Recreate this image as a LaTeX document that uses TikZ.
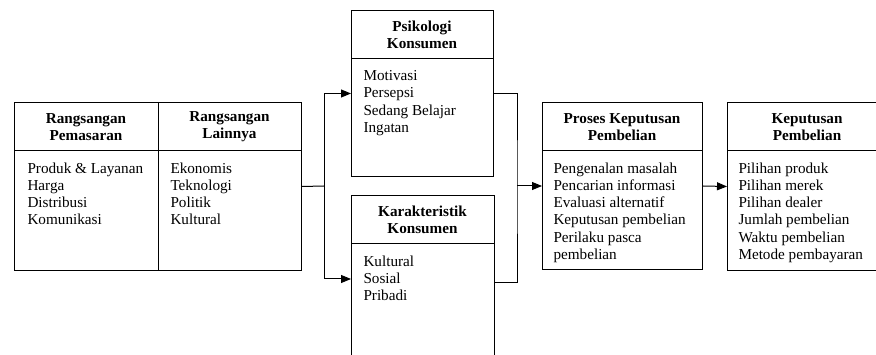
\documentclass[tikz,border=0pt]{standalone}
\usepackage{fontspec}
\setmainfont{Liberation Serif}
\usetikzlibrary{arrows.meta}
\begin{document}
\begin{tikzpicture}[x=1pt,y=-1pt, line width=1pt,
  box/.style={draw, rectangle, inner sep=0pt, anchor=north west},
  head/.style={font=\fontsize{15.2}{17.3}\selectfont\bfseries, align=center, inner sep=0pt},
  body/.style={font=\fontsize{15.2}{17.3}\selectfont, align=left, anchor=north west, inner sep=0pt},
  arr/.style={-{Triangle[length=10pt,width=8pt]}}]
\useasboundingbox (0,0) rectangle (876,355);
\clip (0,0) rectangle (876,355);
% boxes
\node[box, minimum width=287pt, minimum height=168pt] (stim) at (14,102) {};
\node[box, minimum width=142pt, minimum height=166pt] (psi) at (351,10) {};
\node[box, minimum width=143pt, minimum height=185pt] (kar) at (351,195) {};
\node[box, minimum width=160pt, minimum height=167pt] (pro) at (542,102) {};
\node[box, minimum width=160pt, minimum height=168pt] (kep) at (727,102) {};
% dividers
\draw (158,102) -- (158,270);
\draw (stim.west |- 0,151) -- (stim.east |- 0,151);
\draw (psi.west |- 0,59) -- (psi.east |- 0,59);
\draw (kar.west |- 0,244) -- (kar.east |- 0,244);
\draw (pro.west |- 0,151) -- (pro.east |- 0,151);
\draw (kep.west |- 0,151) -- (kep.east |- 0,151);
% headings
\node[head] (h1) at (86,127) {Rangsangan\\Pemasaran};
\node[head] (h2) at (229.5,127) {Rangsangan\\Lainnya};
\node[head] (h3) at (422,35) {Psikologi\\Konsumen};
\node[head] (h4) at (422.5,220) {Karakteristik\\Konsumen};
\node[head] (h5) at (622,127) {Proses Keputusan\\Pembelian};
\node[head] (h6) at (807,127) {Keputusan\\Pembelian};
% bodies
\node[body] (b1) at (27,162) {Produk \& Layanan\\Harga\\Distribusi\\Komunikasi};
\node[body] (b2) at (170,162) {Ekonomis\\Teknologi\\Politik\\Kultural};
\node[body] (b3) at (363,70) {Motivasi\\Persepsi\\Sedang Belajar\\Ingatan};
\node[body] (b4) at (363,255) {Kultural\\Sosial\\Pribadi};
\node[body] (b5) at (553,162) {Pengenalan masalah\\Pencarian informasi\\Evaluasi alternatif\\Keputusan pembelian\\Perilaku pasca\\pembelian};
\node[body] (b6) at (738,162) {Pilihan produk\\Pilihan merek\\Pilihan dealer\\Jumlah pembelian\\Waktu pembelian\\Metode pembayaran};
% connectors
\coordinate (split) at (324,186);
\coordinate (merge) at (517,186);
\draw (stim.east) -- (split);
\draw[arr] (split) |- (psi.west);
\draw[arr] (split) |- (kar.west |- 0,279);
\draw (psi.east) -| (merge) |- (kar.east |- 0,283);
\draw[arr] (merge) -- (pro.west);
\draw[arr] (pro.east) -- (kep.west);
\end{tikzpicture}
\end{document}
